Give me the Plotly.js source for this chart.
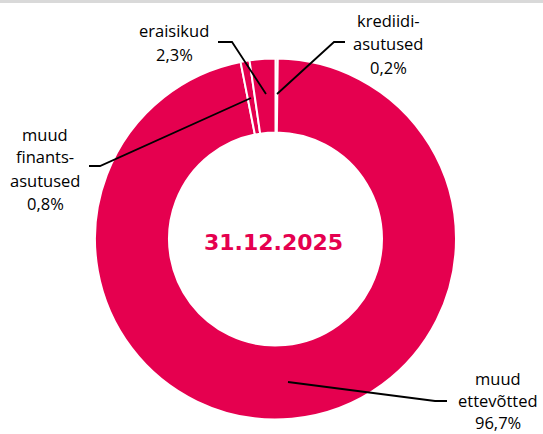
<!DOCTYPE html>
<html>
<head>
<meta charset="utf-8">
<script src="https://cdn.plot.ly/plotly-3.0.1.min.js"></script>
<style>html,body{margin:0;padding:0;background:#fff;}#chart{width:543px;height:434px;}</style>
</head>
<body>
<div id="chart"></div>
<script>
// Data (clockwise from 12 o'clock)
const categories = ["krediidiasutused", "muud ettevõtted", "muud finantsasutused", "eraisikud"];
const values = [0.2, 96.7, 0.8, 2.3];
const labelLines = [["krediidi-", "asutused"], ["muud", "ettevõtted"], ["muud", "finants-", "asutused"], ["eraisikud"]];
const centerLabel = "31.12.2025";

const W = 543, H = 434;
const RED = "#E5004F";
const px = (x) => x / W;
const py = (y) => 1 - y / H;

// label block layout (pixel positions of each line's middle)
const labelPos = [
  {x: 388, y0: 20, dy: 23.5},
  {x: 498, y0: 378, dy: 22},
  {x: 45, y0: 134, dy: 23},
  {x: 174, y0: 31, dy: 24}
];
const leaders = [
  [[345, 42], [334, 42], [277, 94]],
  [[288, 382], [435, 401], [447, 401]],
  [[89, 166], [100, 166], [251, 98]],
  [[218, 42], [232, 42], [266, 94]]
];

const annotations = [];
categories.forEach((c, i) => {
  const lines = labelLines[i].concat([values[i].toFixed(1).replace('.', ',') + '%']);
  lines.forEach((t, k) => {
    annotations.push({
      text: t, xref: 'paper', yref: 'paper',
      x: px(labelPos[i].x), y: py(labelPos[i].y0 + k * labelPos[i].dy),
      xanchor: 'center', yanchor: 'middle', showarrow: false,
      font: {family: 'Open Sans', size: 16.5, color: '#000'}
    });
  });
});
annotations.push({
  text: '<b>' + centerLabel + '</b>', xref: 'paper', yref: 'paper',
  x: px(273), y: py(242), xanchor: 'center', yanchor: 'middle', showarrow: false,
  font: {family: 'DejaVu Sans', size: 22, color: RED}
});

const shapes = [{
  type: 'rect', xref: 'paper', yref: 'paper', x0: 0, x1: 1, y0: py(3), y1: 1,
  fillcolor: '#d9d9d9', line: {width: 0}, layer: 'above'
}];
leaders.forEach(pts => {
  const d = pts.map((p, j) => (j ? 'L' : 'M') + px(p[0]) + ',' + py(p[1])).join(' ');
  shapes.push({type: 'path', xref: 'paper', yref: 'paper', path: d, line: {color: '#000', width: 1.8}});
});

const trace = {
  type: 'pie', labels: categories, values: values, sort: false, direction: 'clockwise', rotation: 0,
  hole: 0.59, textinfo: 'none', hoverinfo: 'none', showlegend: false,
  marker: {colors: categories.map(() => RED), line: {color: '#fff', width: 2}},
  domain: {x: [95 / W, 456 / W], y: [1 - 419.5 / H, 1 - 58.5 / H]}
};

Plotly.newPlot('chart', [trace], {
  width: W, height: H, margin: {l: 0, r: 0, t: 0, b: 0},
  paper_bgcolor: '#fff', plot_bgcolor: '#fff',
  annotations: annotations, shapes: shapes
}, {displayModeBar: false, staticPlot: true});
</script>
</body>
</html>
